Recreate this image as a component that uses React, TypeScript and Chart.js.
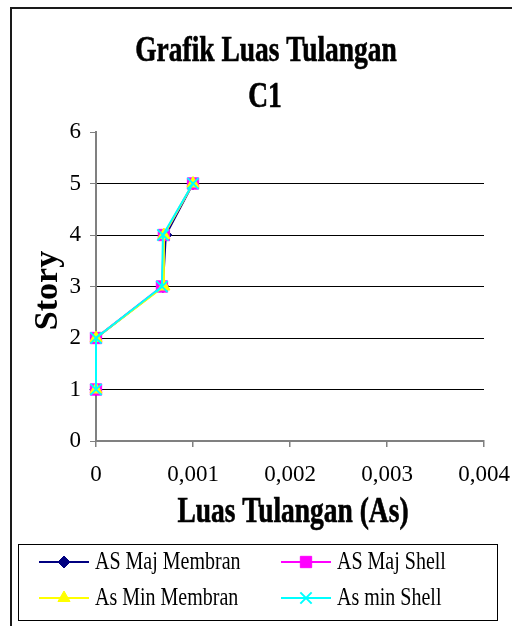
import React, { useEffect, useRef } from "react";
import { Chart, registerables } from "chart.js";
import { drawPoint } from "chart.js/helpers";

Chart.register(...registerables);

// Story levels (y) and reinforcement area per story (x)
const stories = [1, 2, 3, 4, 5];
const asMajMembran = [0, 0, 0.00069, 0.00072, 0.001];
const asMajShell = [0, 0, 0.00068, 0.0007, 0.001];
const asMinMembran = [0, 0, 0.0007, 0.0007, 0.001];
const asMinShell = [0, 0, 0.00068, 0.00069, 0.001];

const seriesNames = ["AS Maj Membran", "AS Maj Shell", "As Min Membran", "As min Shell"];
const titleLines = ["Grafik Luas Tulangan", "C1"];
const xTitle = "Luas Tulangan (As)";
const yTitle = "Story";

const SERIF = "'Liberation Serif', 'Times New Roman', serif";

const toPoints = (xs: number[]) => xs.map((x, i) => ({ x, y: stories[i] }));

function condensedText(
  ctx: CanvasRenderingContext2D,
  text: string,
  x: number,
  y: number,
  font: string,
  sx: number,
  align: CanvasTextAlign,
  heavy = 0
) {
  ctx.save();
  ctx.translate(x, y);
  ctx.scale(sx, 1);
  ctx.font = font;
  ctx.fillStyle = "#000";
  ctx.textAlign = align;
  ctx.textBaseline = "alphabetic";
  ctx.fillText(text, 0, 0);
  if (heavy > 0) {
    ctx.strokeStyle = "#000";
    ctx.lineWidth = heavy;
    ctx.strokeText(text, 0, 0);
  }
  ctx.restore();
}

// Frame, titles and the two-column legend box
const decorations = {
  id: "decorations",
  beforeDraw(chart: any) {
    const ctx: CanvasRenderingContext2D = chart.ctx;
    ctx.save();
    ctx.fillStyle = "#fff";
    ctx.fillRect(0, 0, chart.width, chart.height);
    ctx.restore();
  },
  afterDraw(chart: any) {
    const ctx: CanvasRenderingContext2D = chart.ctx;
    const area = chart.chartArea;

    // outer frame (left and top edges fall inside the canvas)
    ctx.save();
    ctx.strokeStyle = "#1a1a1a";
    ctx.lineWidth = 2;
    ctx.beginPath();
    ctx.moveTo(11, 626);
    ctx.lineTo(11, 8);
    ctx.lineTo(512, 8);
    ctx.stroke();
    ctx.restore();

    // chart title
    const titleFont = `bold 35px ${SERIF}`;
    condensedText(ctx, titleLines[0], 266, 61, titleFont, 0.785, "center", 0.6);
    condensedText(ctx, titleLines[1], 265, 107, titleFont, 0.785, "center", 0.6);

    // x axis title
    condensedText(ctx, xTitle, (area.left + area.right) / 2 + 3, 522, titleFont, 0.785, "center", 0.6);

    // y axis title
    ctx.save();
    ctx.translate(57, (area.top + area.bottom) / 2 + 4);
    ctx.rotate(-Math.PI / 2);
    ctx.font = `bold 34px ${SERIF}`;
    ctx.fillStyle = "#000";
    ctx.textAlign = "center";
    ctx.textBaseline = "alphabetic";
    ctx.fillText(yTitle, 0, 0);
    ctx.restore();

    // legend
    ctx.save();
    ctx.strokeStyle = "#000";
    ctx.lineWidth = 1;
    ctx.strokeRect(18.5, 544.5, 479, 76);
    ctx.restore();

    const cols = [39, 281];
    const rows = [562, 598];
    [0, 1, 2, 3].forEach((di, k) => {
      const ds = chart.data.datasets[di];
      const x0 = cols[k % 2];
      const y0 = rows[Math.floor(k / 2)];
      ctx.save();
      ctx.strokeStyle = ds.borderColor;
      ctx.lineWidth = 2;
      ctx.beginPath();
      ctx.moveTo(x0, y0);
      ctx.lineTo(x0 + 50, y0);
      ctx.stroke();
      ctx.fillStyle = ds.pointBackgroundColor;
      ctx.strokeStyle = ds.pointBorderColor;
      ctx.lineWidth = ds.pointBorderWidth;
      drawPoint(ctx, { pointStyle: ds.pointStyle, radius: ds.pointRadius, rotation: 0, borderWidth: ds.pointBorderWidth }, x0 + 25, y0);
      ctx.restore();
      condensedText(ctx, ds.label, x0 + 56, y0 + 6.5, `25px ${SERIF}`, 0.8, "left");
    });
  },
};

function App() {
  const canvasRef = useRef<HTMLCanvasElement | null>(null);

  useEffect(() => {
    const canvas = canvasRef.current;
    if (!canvas) return;

    const mk = (label: string, xs: number[], color: string, style: string, radius: number, order: number) => ({
      label,
      data: toPoints(xs),
      showLine: true,
      borderColor: color,
      backgroundColor: color,
      borderWidth: 2,
      pointStyle: style,
      pointRadius: radius,
      pointHoverRadius: radius,
      pointBackgroundColor: color,
      pointBorderColor: color,
      pointBorderWidth: style === "crossRot" ? 2 : 1,
      order,
      clip: false,
    });

    const chart = new Chart(canvas, {
      type: "scatter",
      data: {
        datasets: [
          mk(seriesNames[0], asMajMembran, "#000080", "rectRot", 6, 4),
          mk(seriesNames[1], asMajShell, "#FF00FF", "rect", 8, 3),
          mk(seriesNames[2], asMinMembran, "#FFFF00", "triangle", 7, 2),
          mk(seriesNames[3], asMinShell, "#00FFFF", "crossRot", 8, 1),
        ] as any,
      },
      options: {
        animation: false,
        responsive: false,
        maintainAspectRatio: false,
        layout: { padding: { top: 132, left: 0, right: 28, bottom: 0 } },
        plugins: {
          legend: { display: false },
          title: { display: false },
          tooltip: { enabled: false },
        },
        scales: {
          x: {
            type: "linear",
            min: 0,
            max: 0.004,
            afterFit: (s: any) => {
              s.height = 185;
              s.paddingLeft = 0;
              s.paddingRight = 0;
            },
            ticks: {
              stepSize: 0.001,
              color: "#000",
              padding: 14,
              maxRotation: 0,
              font: { family: SERIF, size: 23 },
              callback: (v: any) => (Number(v) === 0 ? "0" : Number(v).toFixed(3).replace(".", ",")),
            },
            grid: {
              drawOnChartArea: false,
              tickColor: "#808080",
              tickLength: 6,
              lineWidth: 1.5,
            },
            border: { color: "#808080", width: 2 },
          },
          y: {
            type: "linear",
            min: 0,
            max: 6,
            afterFit: (s: any) => {
              s.width = 96;
              s.paddingTop = 0;
              s.paddingBottom = 0;
            },
            ticks: {
              stepSize: 1,
              color: "#000",
              padding: 9,
              font: { family: SERIF, size: 23 },
            },
            grid: {
              color: (c: any) =>
                c.tick && c.tick.value >= 1 && c.tick.value <= 5 ? "#000" : "rgba(0,0,0,0)",
              lineWidth: 1,
              tickColor: "#808080",
              tickLength: 6,
            },
            border: { color: "#808080", width: 2 },
          },
        },
      } as any,
      plugins: [decorations],
    });

    return () => chart.destroy();
  }, []);

  return (
    <div style={{ position: "absolute", left: 0, top: 0, width: 512, height: 626, background: "#fff" }}>
      <canvas ref={canvasRef} width={512} height={626} style={{ display: "block", width: 512, height: 626 }} />
    </div>
  );
}

export default App;
